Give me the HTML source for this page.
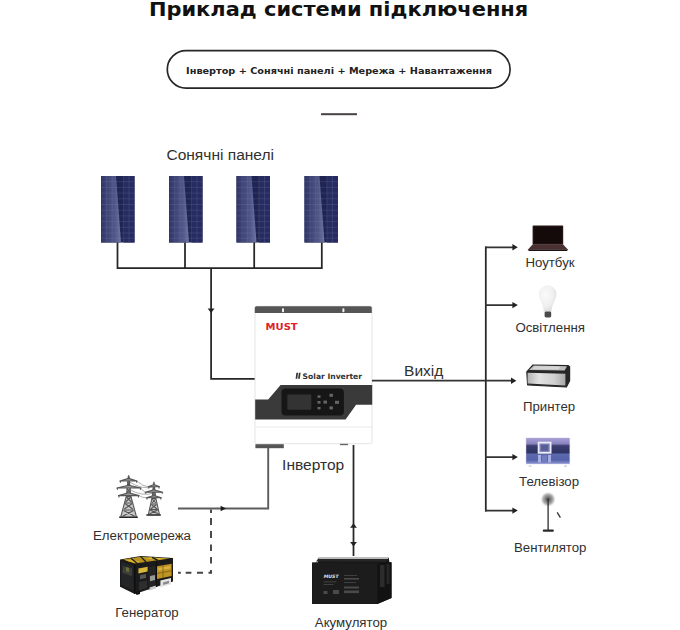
<!DOCTYPE html>
<html lang="uk">
<head>
<meta charset="utf-8">
<title>Приклад системи підключення</title>
<style>
html,body{margin:0;padding:0;background:#fff;}
body{width:680px;height:630px;overflow:hidden;position:relative;font-family:"DejaVu Sans","Liberation Sans",sans-serif;}
svg{position:absolute;left:0;top:0;display:block;}
text{font-family:"DejaVu Sans","Liberation Sans",sans-serif;}
.t{font-weight:bold;font-size:20.95px;fill:#111;}
.p{font-weight:bold;font-size:9.72px;fill:#222;}
.l{font-family:"Liberation Sans","DejaVu Sans",sans-serif;font-size:13px;fill:#303030;transform-box:fill-box;transform-origin:50% 78%;transform:scale(1.02,0.96);}
.m{font-family:"Liberation Sans","DejaVu Sans",sans-serif;font-size:15.1px;fill:#303030;transform-box:fill-box;transform-origin:50% 78%;transform:scale(1.03,0.97);}
.w{fill:none;stroke:#262626;stroke-width:1.75;}
.g{fill:none;stroke:#555;stroke-width:1.6;}
.a{fill:#222;}
</style>
</head>
<body>
<svg width="680" height="630" viewBox="0 0 680 630">
<defs>
  <linearGradient id="pl" x1="0" x2="1" y1="0" y2="0">
    <stop offset="0" stop-color="#2f3566"/>
    <stop offset="0.7" stop-color="#515889"/>
    <stop offset="1" stop-color="#6d75a2"/>
  </linearGradient>
</defs>

<!-- title -->
<text class="t" transform="translate(338.6 15.9) scale(1 0.93)" text-anchor="middle">Приклад системи підключення</text>
<rect x="167.3" y="50.7" width="342.8" height="37.4" rx="18.7" ry="18.7" fill="#fff" stroke="#262626" stroke-width="1.7"/>
<text class="p" transform="translate(339 74.2) scale(1 0.93)" text-anchor="middle">Інвертор + Сонячні панелі + Мережа + Навантаження</text>
<rect x="321" y="113.2" width="36" height="2" fill="#4a4242"/>

<!-- solar panels -->
<text class="m" x="168" y="160">Сонячні панелі</text>
<g transform="translate(101 176)">
    <rect x="0" y="0" width="33.5" height="66.5" fill="#1f2452"/>
    <polygon points="0,0 15,0 20,66.5 0,66.5" fill="url(#pl)"/>
    <rect x="22.5" y="0" width="11" height="66.5" fill="#262c60"/>
    <g stroke="#7d86b4" stroke-width="0.4" opacity="0.55">
      <path d="M0 5.7H33.5M0 11.4H33.5M0 17.1H33.5M0 22.8H33.5M0 28.5H33.5M0 34.2H33.5M0 39.9H33.5M0 45.6H33.5M0 51.3H33.5M0 57H33.5M0 62.2H33.5"/>
      <path d="M5.6 0V66.5M11.2 0V66.5M22.4 0V66.5M28 0V66.5"/>
    </g>
</g>
<g transform="translate(169 176)">
    <rect x="0" y="0" width="33.5" height="66.5" fill="#1f2452"/>
    <polygon points="0,0 15,0 20,66.5 0,66.5" fill="url(#pl)"/>
    <rect x="22.5" y="0" width="11" height="66.5" fill="#262c60"/>
    <g stroke="#7d86b4" stroke-width="0.4" opacity="0.55">
      <path d="M0 5.7H33.5M0 11.4H33.5M0 17.1H33.5M0 22.8H33.5M0 28.5H33.5M0 34.2H33.5M0 39.9H33.5M0 45.6H33.5M0 51.3H33.5M0 57H33.5M0 62.2H33.5"/>
      <path d="M5.6 0V66.5M11.2 0V66.5M22.4 0V66.5M28 0V66.5"/>
    </g>
</g>
<g transform="translate(236.5 176)">
    <rect x="0" y="0" width="33.5" height="66.5" fill="#1f2452"/>
    <polygon points="0,0 15,0 20,66.5 0,66.5" fill="url(#pl)"/>
    <rect x="22.5" y="0" width="11" height="66.5" fill="#262c60"/>
    <g stroke="#7d86b4" stroke-width="0.4" opacity="0.55">
      <path d="M0 5.7H33.5M0 11.4H33.5M0 17.1H33.5M0 22.8H33.5M0 28.5H33.5M0 34.2H33.5M0 39.9H33.5M0 45.6H33.5M0 51.3H33.5M0 57H33.5M0 62.2H33.5"/>
      <path d="M5.6 0V66.5M11.2 0V66.5M22.4 0V66.5M28 0V66.5"/>
    </g>
</g>
<g transform="translate(304.5 176)">
    <rect x="0" y="0" width="33.5" height="66.5" fill="#1f2452"/>
    <polygon points="0,0 15,0 20,66.5 0,66.5" fill="url(#pl)"/>
    <rect x="22.5" y="0" width="11" height="66.5" fill="#262c60"/>
    <g stroke="#7d86b4" stroke-width="0.4" opacity="0.55">
      <path d="M0 5.7H33.5M0 11.4H33.5M0 17.1H33.5M0 22.8H33.5M0 28.5H33.5M0 34.2H33.5M0 39.9H33.5M0 45.6H33.5M0 51.3H33.5M0 57H33.5M0 62.2H33.5"/>
      <path d="M5.6 0V66.5M11.2 0V66.5M22.4 0V66.5M28 0V66.5"/>
    </g>
</g>
<path class="w" d="M117.5 242.5V268H321.8V242.5M185 242.5V268M254.2 242.5V268M211.1 268V378.8H255.5"/>
<polygon points="0,0 -4.4,-3.4 -4.4,3.4" class="a" transform="translate(211.1 313) rotate(90)"/>

<!-- inverter -->
<g id="inverter">
  <rect x="255" y="306.3" width="117" height="137.4" rx="1.5" fill="#fff" stroke="#dcdcdc" stroke-width="0.8"/>
  <path d="M254.8 313V308a1.7 1.7 0 0 1 1.7-1.7H370.1a1.7 1.7 0 0 1 1.7 1.7V313Z" fill="#555"/>
  <rect x="282" y="308.3" width="2" height="4" rx="0.8" fill="#f2f2f2"/>
  <rect x="342.4" y="308.3" width="2" height="4" rx="0.8" fill="#f2f2f2"/>
  <text transform="translate(265.6 330.4) scale(1.1 1)" style="font-family:'DejaVu Sans','Liberation Sans',sans-serif;font-weight:bold;font-size:9.1px;fill:#e0202a">MUST</text>
  <path d="M296.4 372.8h1.7l-0.8 6h-1.7zM298.9 372.8h1.7l-0.8 6h-1.7z" fill="#333"/>
  <text x="302.6" y="378.6" style="font-family:'DejaVu Sans','Liberation Sans',sans-serif;font-weight:bold;font-size:7.6px;fill:#333">Solar Inverter</text>
  <polygon points="280.6,385 372.2,385 372.2,404.8 356.1,404.8 345.6,419.4 255.2,419.4 255.2,399.4 268.2,399.4" fill="#3a3a3a"/>
  <rect x="281.5" y="388.6" width="62.4" height="26.8" rx="4" fill="#161616"/>
  <rect x="287.3" y="394.4" width="24" height="15.4" rx="1" fill="#333"/>
  <g fill="#666">
    <rect x="317.5" y="395.4" width="3" height="2.4"/><rect x="329.5" y="393.8" width="3.4" height="3"/>
    <rect x="317.5" y="401" width="3" height="2.6"/><rect x="323.5" y="400.6" width="3.4" height="3"/><rect x="335" y="400.8" width="4" height="3"/>
    <rect x="317.5" y="407" width="3" height="2.4"/><rect x="329.5" y="406.4" width="3.4" height="3"/>
  </g>
  <path d="M256 427H371.5" stroke="#e4e4e4" stroke-width="0.8" fill="none"/>
  <rect x="255.4" y="444.2" width="28.4" height="4" fill="#555"/>
  <rect x="340" y="443.8" width="8" height="1.4" fill="#666"/>
</g>
<text class="m" x="283" y="470.2">Інвертор</text>
<text class="m" x="404.6" y="375.6">Вихід</text>

<!-- grid / generator wiring -->
<path d="M268.2 448V508.5H178" fill="none" stroke="#5c5c5c" stroke-width="1.9"/>
<polygon points="226,508.5 220.6,505.7 220.6,511.3" fill="#1c1c1c"/>
<path d="M211 509.6V513M211 518V525M211 531V538M211 544.5V551M211 557V563.5M211 570V573.8M178 572.8H180.8M185.7 572.8H191.4M197 572.8H203M208.5 572.8H212" fill="none" stroke="#444" stroke-width="1.9"/>

<!-- battery wiring -->
<path class="w" d="M353.5 445V556"/>
<polygon points="0,0 -4.4,-3.4 -4.4,3.4" class="a" transform="translate(353.5 523.3) rotate(-90)"/>
<polygon points="0,0 -4.4,-3.4 -4.4,3.4" class="a" transform="translate(353.5 546.4) rotate(90)"/>

<!-- output bus -->
<path class="w" d="M485.8 246.6V511.4"/>
<path d="M372 380.7H511M485 247.4H513M485 305.2H513M485 457.2H513M485 510.6H513" fill="none" stroke="#333" stroke-width="1.8"/>
<polygon points="0,0 -5.4,-3.2 -5.4,3.2" class="a" transform="translate(517.8 247.2)"/>
<polygon points="0,0 -5.4,-3.2 -5.4,3.2" class="a" transform="translate(517.8 305.1)"/>
<polygon points="0,0 -5.4,-3.2 -5.4,3.2" class="a" transform="translate(516.4 380.7)"/>
<polygon points="0,0 -5.4,-3.2 -5.4,3.2" class="a" transform="translate(517.8 457.1)"/>
<polygon points="0,0 -5.4,-3.2 -5.4,3.2" class="a" transform="translate(517.8 510.6)"/>

<!-- labels -->
<text class="l" x="142" y="539.9" text-anchor="middle">Електромережа</text>
<text class="l" x="147" y="617.3" text-anchor="middle">Генератор</text>
<text class="l" x="351" y="627.3" text-anchor="middle">Акумулятор</text>
<text class="l" x="550" y="267.4" text-anchor="middle">Ноутбук</text>
<text class="l" x="550.2" y="332.5" text-anchor="middle">Освітлення</text>
<text class="l" x="549.1" y="411.5" text-anchor="middle">Принтер</text>
<text class="l" x="549.1" y="485.7" text-anchor="middle">Телевізор</text>
<text class="l" x="550.2" y="551.9" text-anchor="middle">Вентилятор</text>

<!-- pylons -->
<g id="pylons" fill="none" stroke="#565656" stroke-linecap="butt" stroke-linejoin="round">
  <!-- wires -->
  <g stroke="#8c8c8c" stroke-width="0.7">
    <path d="M136.6 481Q143 486.4 148.2 486.8M140.8 488Q143.5 491.6 145.2 492.2M138.8 495.6Q143 498 146.6 497.8M128.6 481.5Q142 490 153.8 487M128.6 489Q142 497 153.8 493"/>
  </g>
  <!-- big -->
  <polygon points="127.4,476 129.8,476 131,496 136.4,516.6 120.8,516.6 126.2,496" fill="#c9c9c9" stroke="none"/>
  <g stroke-width="1.1">
    <path d="M128.6 475.4L126.4 496 120.8 516.6M128.6 475.4L130.8 496 136.4 516.6"/>
    <path d="M127 492.6L130.4 488.6M130.4 492.6L127 488.6M126.4 497L131.6 502M130.8 497L125.6 502M125 503.5L132.8 509M132.2 503.5L124.4 509M123.6 510.5L134.6 516.2M133.6 510.5L122.6 516.2M127.4 485.6L130 482M130 485.6L127.4 482M127.6 479.6L129.6 477"/>
    <path d="M126.2 496.6H131M125 503H132.2M123.6 510H133.6"/>
  </g>
  <path d="M119.8 481L128.6 478.4 137 481ZM116.8 488L128.6 485.2 141 488ZM118.4 495.6L128.6 492.8 139 495.6ZM120.4 481v1.8M136.6 481v1.8M117.4 488v1.8M140.4 488v1.8M119 495.6v1.8M138.4 495.6v1.8" stroke-width="1.1" fill="#9a9a9a"/>
  <path d="M119.2 517.2H137.8" stroke="#1e1e1e" stroke-width="1.5"/>
  <!-- small -->
  <polygon points="152.9,482.4 154.9,482.4 155.6,497 159.4,514.4 148.4,514.4 152.2,497" fill="#c9c9c9" stroke="none"/>
  <g stroke-width="1.1">
    <path d="M153.9 481.8L152.2 497 148.4 514.4M153.9 481.8L155.6 497 159.4 514.4"/>
    <path d="M152.2 499L155.8 503M155.6 499L152 503M151.4 504.5L157 509M156.4 504.5L150.8 509M150.2 510L158.4 514M157.6 510L149.4 514M152.8 495L155 491.5M155 495L152.8 491.5M153 489.5L154.8 486.5"/>
    <path d="M152 498.5H155.8M151.2 504H156.6M150 509.6H157.8"/>
  </g>
  <path d="M148.2 486.8L153.9 484.6 159.6 486.8ZM145.2 492.2L153.9 489.8 162.8 492.2ZM146.4 497.8L153.9 495.4 161.4 497.8ZM148.8 486.8v1.6M159 486.8v1.6M145.8 492.2v1.6M162.2 492.2v1.6M147 497.8v1.6M160.8 497.8v1.6" stroke-width="1.1" fill="#9a9a9a"/>
  <path d="M146.4 515H160.8" stroke="#1e1e1e" stroke-width="1.5"/>
</g>

<!-- generator -->
<g id="generator">
  <polygon points="120,559.4 140.6,556 173,558 173,581.5 134.7,594 120,586.8" fill="#1b1b1b"/>
  <polygon points="123,559.6 140.8,556.8 170,558.4 135,563.6" fill="#b8941f"/>
  <polygon points="125.4,560.6 132,559.6 140,561.8 134.6,563" fill="#dcb52c"/>
  <polygon points="150,557.6 166,558.4 158,559.8 146,558.6" fill="#e3bd33"/>
  <path d="M140.8 556.6L146 562M131 558.2L137 563.2M152 557.4L158 560.4" stroke="#1a1a1a" stroke-width="1.3" fill="none"/>
  <polygon points="121.4,562 133.6,565.8 133.6,590.4 121.4,585" fill="#232527"/>
  <polygon points="122.6,566 132,568.6 132,576 122.6,573" fill="#3a3f3c"/>
  <polygon points="126,567 129,567.8 129,572 126,571.2" fill="#6a6a3a"/>
  <polygon points="157,566.2 171.6,563.8 171.6,576 157,579" fill="#c09422"/>
  <polygon points="158.4,568 170.4,566 170.4,568.6 158.4,570.6" fill="#d9b340"/>
  <path d="M157 573.4L171.6 570.8M163 565.2V578" stroke="#7a5c14" stroke-width="0.8" fill="none"/>
  <polygon points="138.4,568.4 147.6,566.8 147.6,571.6 138.4,573.4" fill="#d8b83a"/>
  <polygon points="148.6,567 156,565.8 156,587.4 148.6,589.6" fill="#242424"/>
  <polygon points="160.4,580.6 171,578 171,584.2 160.4,587.6" fill="#e4e4e4"/>
  <polygon points="163,582.4 169,580.8 169,583.2 163,585" fill="#8a8a8a"/>
  <polygon points="149.6,587.4 156,585.4 156,588.4 149.6,590.4" fill="#cfcfcf"/>
  <polygon points="150,576 155,575 155,580 150,581.2" fill="#9a9a9a"/>
  <polygon points="140,575 146,574 146,578 140,579.2" fill="#555"/>
  <polygon points="139,582 147,580.4 147,588 139,590.4" fill="#2e2e2e"/>
  <path d="M134.7 564.4V593.8M156.4 561V587" stroke="#0d0d0d" stroke-width="1.2" fill="none"/>
  <polygon points="135,592 140,590.6 140,594 136.6,595" fill="#111"/>
</g>

<!-- battery -->
<g id="battery">
  <polygon points="318.4,557.8 388.8,557.8 389.4,562.2 391.6,562.6 391.6,598 377.6,604 312,604 312,562.6 318,562.2" fill="#181818"/>
  <polygon points="318.6,558 388.6,558 386,561.6 316,561.6" fill="#262626"/>
  <polygon points="319,557.4 388.4,557.4 388,559 318.2,559" fill="#b9b9b9"/>
  <polygon points="312.4,562.8 377.6,563.4 377.6,603.8 312.4,603.8" fill="#1c1c1c"/>
  <polygon points="377.6,563.4 391.4,562 391.4,598 377.6,603.8" fill="#121212"/>
  <rect x="380" y="565" width="4.5" height="22" fill="#2c2c2c"/>
  <rect x="386.5" y="564" width="3" height="20" fill="#262626"/>
  <text x="323.8" y="578.4" style="font-family:'DejaVu Sans','Liberation Sans',sans-serif;font-weight:bold;font-style:italic;font-size:4.6px;fill:#e6e6e6">MUST</text>
  <g fill="#4a4a4a">
    <rect x="323.5" y="581.5" width="13" height="0.8"/><rect x="323.5" y="584" width="10" height="0.8"/>
    <rect x="344" y="575" width="13" height="0.8"/><rect x="344" y="578" width="15" height="1.6"/><rect x="344" y="582" width="12" height="0.8"/>
    <rect x="344" y="586.5" width="15" height="2"/><rect x="344" y="590.5" width="15" height="2.6"/>
    <rect x="323.5" y="591" width="4" height="3"/><rect x="333" y="590" width="6" height="4"/>
  </g>
</g>

<!-- laptop -->
<g id="laptop">
  <rect x="532.6" y="225.6" width="30.6" height="19.2" rx="0.8" fill="#241414"/>
  <rect x="534" y="227" width="27.8" height="16.4" fill="#140a0a"/>
  <polygon points="532.6,244.6 563.2,244.6 567.6,249.2 528.2,249.2" fill="#4a3030"/>
  <path d="M527.6 249.2H568.2L567 251H528.8Z" fill="#1e1212"/>
</g>

<!-- bulb -->
<g id="bulb">
  <defs>
    <radialGradient id="bg" cx="0.38" cy="0.35" r="0.75">
      <stop offset="0" stop-color="#fafafa"/>
      <stop offset="0.6" stop-color="#efefef"/>
      <stop offset="1" stop-color="#d6d6d6"/>
    </radialGradient>
  </defs>
  <path d="M547.6 285.2a8.8 8.8 0 0 1 8.8 8.8c0 5.2-4.6 10-5 17.6h-7.6c-0.4-7.6-5-12.4-5-17.6a8.8 8.8 0 0 1 8.8-8.800Z" fill="url(#bg)"/>
  <rect x="544.6" y="311.4" width="6.6" height="6" rx="1.4" fill="#4a4a4a"/>
</g>

<!-- printer -->
<g id="printer">
  <defs>
    <linearGradient id="pg" x1="0" x2="1" y1="0" y2="0">
      <stop offset="0" stop-color="#b4b4b4"/>
      <stop offset="0.3" stop-color="#e2e2e2"/>
      <stop offset="0.7" stop-color="#d0d0d0"/>
      <stop offset="1" stop-color="#a8a8a8"/>
    </linearGradient>
  </defs>
  <polygon points="533,365 568.2,365.6 569.6,366.8 569.6,380.8 566.4,387 527.6,384.8 526.8,371.8" fill="#262626" stroke="#262626" stroke-width="1.2" stroke-linejoin="round"/>
  <polygon points="533.6,365.6 567,366.2 564.6,370.6 529,370" fill="#bdbdbd"/>
  <polygon points="535,366.2 560,366.6 558.6,369.4 532.4,369" fill="#d6d6d6"/>
  <polygon points="527.6,372.8 565.4,373.8 565.4,385.6 527.6,383.6" fill="url(#pg)"/>
</g>

<!-- tv -->
<g id="tv">
  <defs>
    <linearGradient id="tg" x1="0" x2="0" y1="0" y2="1">
      <stop offset="0" stop-color="#aaa0d6"/>
      <stop offset="0.22" stop-color="#8a84c0"/>
      <stop offset="0.3" stop-color="#3c3e70"/>
      <stop offset="0.56" stop-color="#2e3364"/>
      <stop offset="0.64" stop-color="#5e6aae"/>
      <stop offset="0.85" stop-color="#5462aa"/>
      <stop offset="1" stop-color="#8e94d0"/>
    </linearGradient>
  </defs>
  <rect x="525.6" y="437.4" width="44.6" height="27" fill="#e9e6f2"/>
  <rect x="526.2" y="438" width="43.4" height="25.8" fill="url(#tg)"/>
  <rect x="538.6" y="442.6" width="12" height="10.2" fill="#7a80b6" stroke="#eeeefa" stroke-width="1.8"/>
  <rect x="541" y="444.8" width="7.2" height="6" fill="#585e96"/>
  <rect x="538" y="455" width="3" height="7.4" fill="#b4bcec" opacity="0.85"/>
  <rect x="548" y="455" width="3" height="7.4" fill="#b4bcec" opacity="0.85"/>
  <rect x="542" y="455.4" width="5" height="6" fill="#7884c8" opacity="0.8"/>
  <rect x="528.6" y="465.6" width="3" height="1" fill="#c8b8c8"/>
  <rect x="564" y="465.6" width="3" height="1" fill="#b8b8c8"/>
</g>

<!-- fan -->
<g id="fan">
  <defs>
    <radialGradient id="fg" cx="0.5" cy="0.5" r="0.5">
      <stop offset="0" stop-color="#3a3a3a"/>
      <stop offset="0.25" stop-color="#6e6e6e"/>
      <stop offset="0.7" stop-color="#b4b4b4"/>
      <stop offset="1" stop-color="#e6e6e6" stop-opacity="0.3"/>
    </radialGradient>
  </defs>
  <circle cx="548.1" cy="499.3" r="7.4" fill="url(#fg)"/>
  <path d="M548.1 499V530.4" stroke="#2e2e2e" stroke-width="1.3" fill="none"/>
  <rect x="542.8" y="529.6" width="11" height="2.2" rx="0.8" fill="#2a2a2a"/>
  <path d="M557.2 512.4L560.4 517.6" stroke="#333" stroke-width="1.3" fill="none"/>
</g>
</svg>
</body>
</html>
